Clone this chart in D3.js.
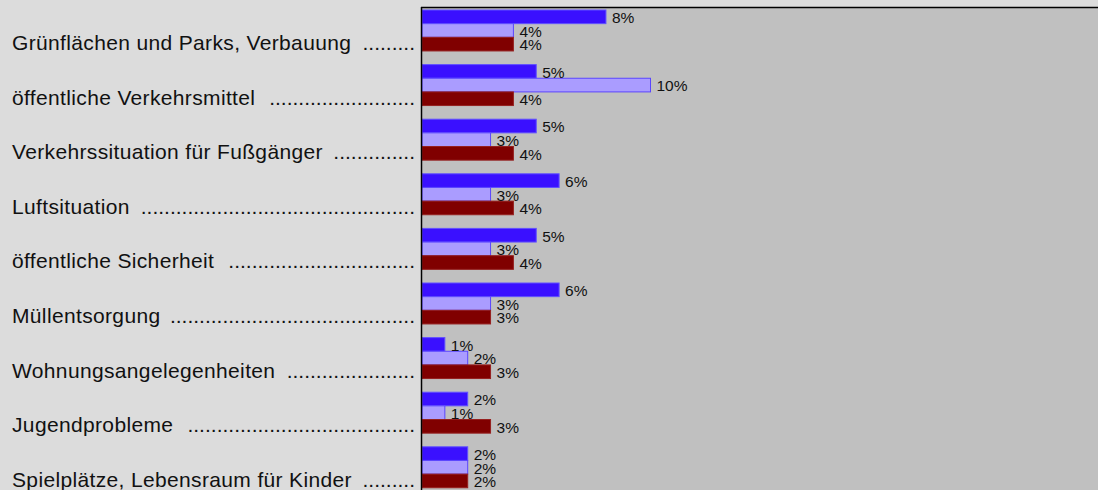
<!DOCTYPE html>
<meta charset="utf-8">
<style>
body { margin: 0; background: #dcdcdc; }
svg { display: block; font-family: "Liberation Sans", Arial, sans-serif; }
.cat { font-size: 21px; letter-spacing: 0.35px; fill: #111; }
.dots { font-size: 21px; fill: #111; }
.val { font-size: 15.5px; fill: #111; }
</style>
<body>
<script src="https://d3js.org/d3.v7.min.js"></script>
<script>

// categories (top to bottom)
var categories = [
  "Grünflächen und Parks, Verbauung",
  "öffentliche Verkehrsmittel",
  "Verkehrssituation für Fußgänger",
  "Luftsituation",
  "öffentliche Sicherheit",
  "Müllentsorgung",
  "Wohnungsangelegenheiten",
  "Jugendprobleme",
  "Spielplätze, Lebensraum für Kinder"
];

// three series, in percent
var seriesA = [8.05, 5, 5, 6, 5, 6, 1, 2, 2];
var seriesB = [4, 10, 3, 3, 3, 3, 2, 1, 2];
var seriesC = [4, 4, 4, 4, 4, 3, 3, 3, 2];

var seriesKeys = ["a", "b", "c"];
var fills   = {a: "#3a10ff", b: "#aa9cff", c: "#800000"};
var strokes = {a: "#6150ff", b: "#5a45ff", c: "#96201f"};

var W = 1098, H = 490;
var plotLeft = 422, plotTop = 7;

var data = categories.map(function(c, i) {
  return {cat: c, a: seriesA[i], b: seriesB[i], c: seriesC[i]};
});

var svg = d3.select("body").append("svg")
    .attr("width", W)
    .attr("height", H);

// scales
var x = d3.scaleLinear().domain([0, 30]).range([plotLeft, plotLeft + 30 * 22.85]);

var y0 = d3.scaleBand()
    .domain(categories)
    .range([10, 10 + categories.length * 54.6])
    .paddingInner(0.25)
    .paddingOuter(0.125)
    .align(0);

var y1 = d3.scaleBand()
    .domain(seriesKeys)
    .range([0, y0.bandwidth()]);

// plot background
svg.append("rect")
    .attr("x", plotLeft)
    .attr("y", plotTop)
    .attr("width", W - plotLeft)
    .attr("height", H - plotTop)
    .attr("fill", "#c0c0c0");

var groups = svg.selectAll(".grp")
    .data(data)
  .enter().append("g")
    .attr("class", "grp")
    .attr("transform", function(d) { return "translate(0," + y0(d.cat) + ")"; });

groups.selectAll("rect")
    .data(function(d) { return seriesKeys.map(function(k) { return {key: k, value: d[k]}; }); })
  .enter().append("rect")
    .attr("x", x(0))
    .attr("y", function(d) { return y1(d.key); })
    .attr("width", function(d) { return x(d.value) - x(0); })
    .attr("height", y1.bandwidth())
    .attr("fill", function(d) { return fills[d.key]; })
    .attr("stroke", function(d) { return strokes[d.key]; })
    .attr("stroke-width", 1);

groups.selectAll(".val")
    .data(function(d) { return seriesKeys.map(function(k) { return {key: k, value: d[k]}; }); })
  .enter().append("text")
    .attr("class", "val")
    .attr("x", function(d) { return x(d.value) + 6; })
    .attr("y", function(d) { return y1(d.key) + y1.bandwidth() - 0.5; })
    .text(function(d) { return Math.round(d.value) + "%"; });

// axis lines (left and top)
svg.append("line")
    .attr("x1", plotLeft - 0.5).attr("x2", plotLeft - 0.5)
    .attr("y1", plotTop).attr("y2", H)
    .attr("stroke", "#000").attr("stroke-width", 1.5);
svg.append("line")
    .attr("x1", plotLeft - 1).attr("x2", W)
    .attr("y1", plotTop + 0.5).attr("y2", plotTop + 0.5)
    .attr("stroke", "#000").attr("stroke-width", 1.5);

// category labels with dot leaders
var labelRight = 415;
groups.each(function(d) {
  var g = d3.select(this);
  var by = y0.bandwidth() - 1;
  var t = g.append("text")
      .attr("class", "cat")
      .attr("x", 12)
      .attr("y", by)
      .text(d.cat);
  var end = 12 + t.node().getComputedTextLength();
  var dots = g.append("text")
      .attr("class", "dots")
      .attr("x", labelRight)
      .attr("y", by)
      .attr("text-anchor", "end")
      .text(".");
  var one = dots.node().getComputedTextLength();
  var n = Math.max(1, Math.floor((labelRight - end - 8) / one));
  dots.text(".".repeat(n));
});

</script>
</body>
